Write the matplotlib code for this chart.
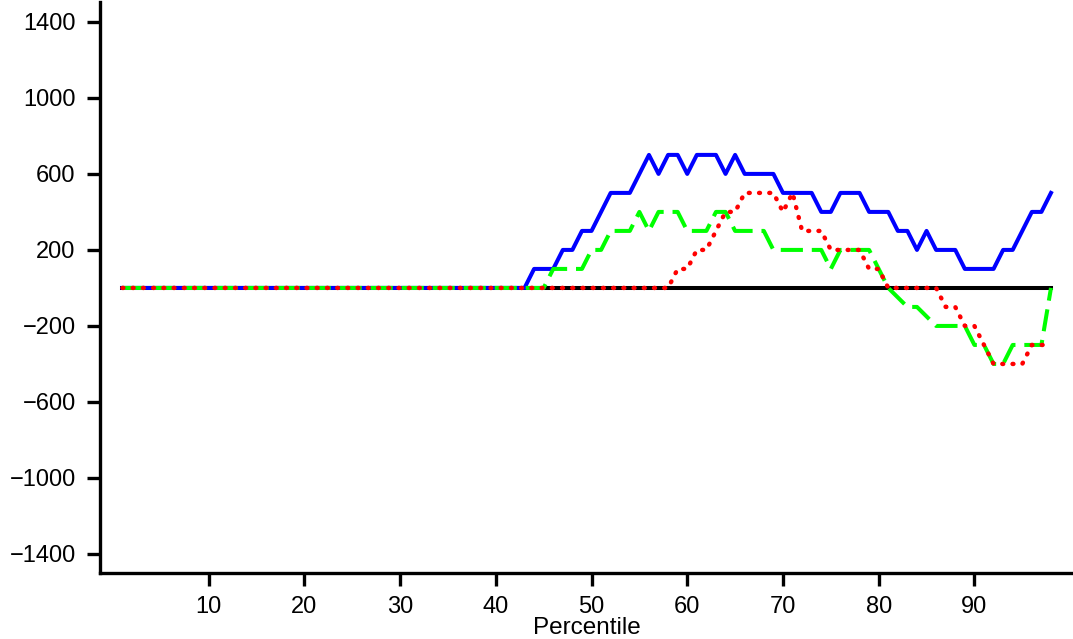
import matplotlib
matplotlib.use("Agg")
import matplotlib.pyplot as plt
import numpy as np

plt.rcParams['font.family'] = ['Liberation Sans', 'DejaVu Sans']

percentile = np.arange(1, 99)

baseline = [0] * 98

blue_values = ([0] * 43 +
               [100, 100, 100, 200, 200, 300, 300, 400, 500, 500, 500, 600, 700, 600, 700, 700,
                600, 700, 700, 700, 600, 700, 600, 600, 600, 600, 500, 500, 500, 500, 400, 400,
                500, 500, 500, 400, 400, 400, 300, 300, 200, 300, 200, 200, 200, 100, 100, 100,
                100, 200, 200, 300, 400, 400, 500])

green_values = ([0] * 45 +
                [100, 100, 100, 100, 200, 200, 300, 300, 300, 400, 300, 400, 400, 400, 300, 300,
                 300, 400, 400, 300, 300, 300, 300, 200, 200, 200, 200, 200, 200, 100, 200, 200,
                 200, 200, 100, 0, -50, -100, -100, -150, -200, -200, -200, -200, -300, -300,
                 -400, -400, -300, -300, -300, -300, 0])

red_values = ([0] * 58 +
              [100, 100, 200, 200, 300, 400, 400, 500, 500, 500, 500, 400, 500, 300, 300, 300,
               200, 200, 200, 200, 100, 100, 0, 0, 0, 0, 0, 0, -100, -100, -200, -200, -300,
               -400, -400, -400, -400, -300, -300, -300])

x_ticks = [10, 20, 30, 40, 50, 60, 70, 80, 90]
y_ticks = [-1400, -1000, -600, -200, 200, 600, 1000, 1400]

fig = plt.figure(figsize=(10.73, 6.39), dpi=100)
ax = fig.add_axes([0.0932, 0.1033, 0.9068, 0.8937])

ax.plot(percentile, baseline, color="black", linewidth=2.9)
ax.plot(percentile, blue_values, color="#0000ff", linewidth=2.9)
ax.plot(percentile, green_values, color="#00ff00", linewidth=2.9, linestyle=(0, (5.5, 2.2)))
ax.plot(percentile, red_values, color="#ff0000", linewidth=3.2, linestyle=(0, (0.2, 2.1)),
        dash_capstyle="round")

ax.spines['right'].set_color('none')
ax.spines['top'].set_color('none')
ax.spines['left'].set_linewidth(2.4)
ax.spines['bottom'].set_linewidth(2.4)
ax.tick_params(width=2.4, length=9.5, labelsize=17)
ax.tick_params(axis='y', pad=8)
ax.tick_params(axis='x', pad=7)

ax.set(xlim=(-1.35, 100.3), xticks=x_ticks, ylim=(-1500, 1505), yticks=y_ticks)
ax.set_xlabel("Percentile", fontsize=17.5, labelpad=-1)

fig.savefig("out.png", dpi=100)
